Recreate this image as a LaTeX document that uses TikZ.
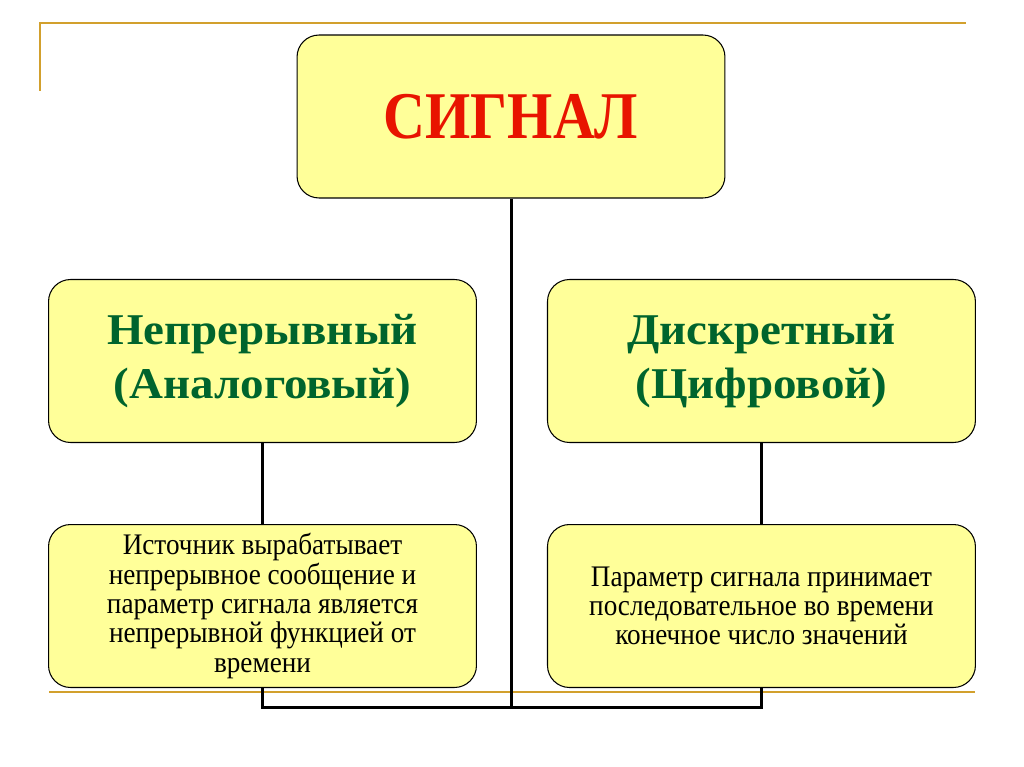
\documentclass[tikz,border=0pt]{standalone}
\usepackage{fontspec}
\setmainfont{Liberation Serif}
\newfontfamily\titlefont{Liberation Serif}[FakeStretch=0.87]
\newfontfamily\headfont{Liberation Serif}[FakeStretch=1.07]
\newfontfamily\notefont{Liberation Serif}[FakeStretch=0.91]
\usetikzlibrary{positioning,backgrounds}
\definecolor{boxyellow}{RGB}{255,255,153}
\definecolor{titlered}{RGB}{232,20,0}
\definecolor{darkgreen}{RGB}{0,100,45}
\definecolor{frameline}{RGB}{210,160,45}

\begin{document}
\begin{tikzpicture}[
    x=0.02cm, y=-0.02cm,
    box/.style={draw, line width=0.6pt, rounded corners=0.44cm, fill=boxyellow,
      minimum width=8.56cm, minimum height=3.26cm, align=center},
    head/.style={font=\headfont\fontsize{25}{30.6}\selectfont\bfseries, text=darkgreen},
    note/.style={font=\notefont\fontsize{17}{16.7}\selectfont},
    link/.style={line width=1.7pt},
    rule/.style={line width=1.5pt, draw=frameline}
  ]
    \useasboundingbox (0,0) rectangle (1024,767);

    \node[box, font=\titlefont\fontsize{38}{40}\selectfont\bfseries, text=titlered] (signal) at (511,116.5) {СИГНАЛ};
    \node[box, head] (cont) at (262.5,361) {Непрерывный\\(Аналоговый)};
    \node[box, head, right=1.4cm of cont] (disc) {Дискретный\\(Цифровой)};
    \node[box, note, below=1.62cm of cont] (contnote) {Источник вырабатывает\\непрерывное сообщение и\\параметр сигнала является\\непрерывной функцией от\\времени};
    \node[box, note, below=1.62cm of disc] (discnote) {Параметр сигнала принимает\\последовательное во времени\\конечное число значений};

    \coordinate (bus) at (511,707);
    \coordinate (tl) at (40,23);
    \coordinate (tr) at (966,23);
    \coordinate (lb) at (40,91);
    \coordinate (bl) at (49,692);
    \coordinate (br) at (975,692);

    \begin{scope}[on background layer]
      \draw[rule] (lb) -- (tl) -- (tr);
      \draw[rule] (bl) -- (br);
      \draw[link] (signal.south) -- (bus);
      \draw[link] (cont.south) -- (cont.south |- bus) -- (disc.south |- bus) -- (disc.south);
    \end{scope}
  \end{tikzpicture}
\end{document}
